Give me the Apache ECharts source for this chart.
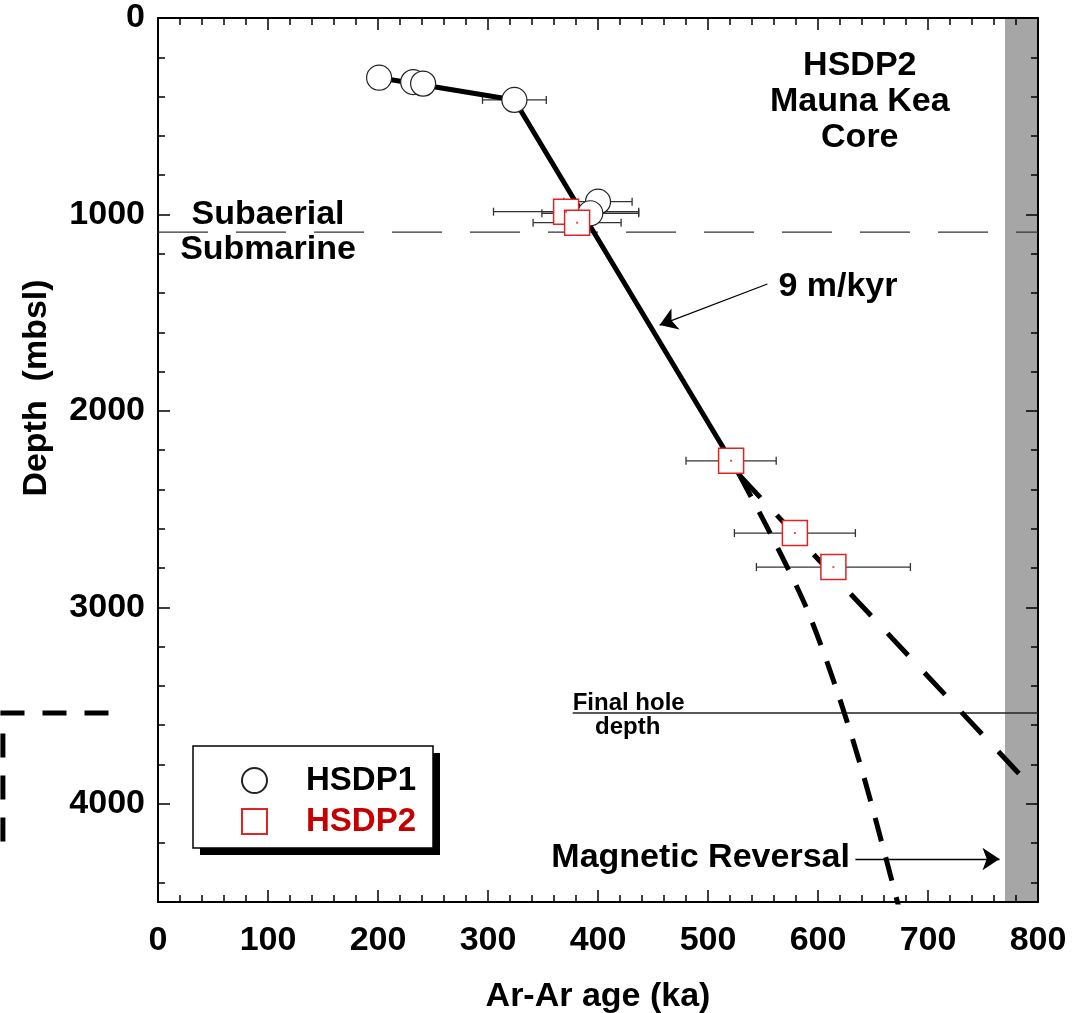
<!DOCTYPE html>
<html>
<head>
<meta charset="utf-8">
<script src="https://cdn.jsdelivr.net/npm/echarts@6/dist/echarts.min.js"></script>
<style>
  html, body { margin: 0; padding: 0; background: #fff; }
  #chart { width: 1072px; height: 1013px; }
</style>
</head>
<body>
<div id="chart"></div>
<script>
// HSDP1 Ar-Ar ages (ka), depths (mbsl) and age errors (ka)
var hsdp1Age = [201, 232, 241, 324, 400, 393]
var hsdp1Depth = [304, 326, 334, 417, 935, 994]
var hsdp1Err = [0, 0, 0, 29, 31, 44]

// HSDP2
var hsdp2Age = [371, 381, 521, 579, 614]
var hsdp2Depth = [986, 1042, 2254, 2622, 2795]
var hsdp2Err = [66, 40, 41, 55, 70]

// 9 m/kyr growth curve and the two extrapolations below it
var fitAge = [201, 324, 521, 529]
var fitDepth = [304, 417, 2254, 2330]
var steepAge = [529, 560, 590, 617, 640, 660, 675]
var steepDepth = [2330, 2660, 3010, 3420, 3830, 4240, 4560]
var flatAge = [529, 784]
var flatDepth = [2330, 3854]

// stray dashed corner left of the plot (from the neighbouring panel)
var strayAge = [-45, -141, -141]
var strayDepth = [3538, 3538, 4276]

var shoreDepth = 1090      // subaerial / submarine boundary
var holeDepth = 3538       // final hole depth
var holeFromAge = 377
var reversalAge = [770, 800]

// annotation arrows [fromAge, fromDepth, toAge, toDepth]
var rateArrow = [554, 1354, 456, 1563]
var reversalArrow = [634, 4281, 765, 4281]

var FONT = '"Liberation Sans", Arial, Helvetica, sans-serif'

var notes = [
  { text: 'HSDP2\nMauna Kea\nCore', age: 638, depth: 428, align: 'center' },
  { text: 'Subaerial', age: 100, depth: 1003, align: 'center' },
  { text: 'Submarine', age: 100, depth: 1181, align: 'center' },
  { text: '9 m/kyr', age: 564, depth: 1369, align: 'left' },
  { text: 'Final hole', age: 377, depth: 3487, align: 'left', small: true },
  { text: 'depth', age: 427, depth: 3609, align: 'center', small: true },
  { text: 'Magnetic Reversal', age: 629, depth: 4276, align: 'right' }
]

function zip (a, b) {
  return a.map(function (v, i) { return [v, b[i]] })
}

function errBars (age, depth, err) {
  var out = []
  age.forEach(function (a, i) {
    if (err[i] > 0) out.push([a - err[i], a + err[i], depth[i]])
  })
  return out
}

var chart = echarts.init(document.getElementById('chart'))

var boxLine = { show: true, onZero: false, lineStyle: { color: '#000', width: 2 } }
var noLine = { show: false, onZero: false }
var majorTick = { show: true, inside: true, length: 12, lineStyle: { color: '#000', width: 1.5 } }
var minorTick = { show: true, inside: true, length: 7, lineStyle: { color: '#000', width: 1.5 } }
var labelFont = { fontFamily: FONT, fontSize: 34, fontWeight: 'bold', color: '#000' }

function xAx (pos, labels) {
  return {
    type: 'value', position: pos, min: 0, max: 800, interval: 100,
    axisLine: boxLine, axisTick: majorTick,
    minorTick: { show: true, splitNumber: 5, length: 7, lineStyle: { color: '#000', width: 1.5 } },
    splitLine: { show: false }, minorSplitLine: { show: false },
    axisLabel: labels ? Object.assign({ margin: 22 }, labelFont) : { show: false }
  }
}

function yAx (pos, step, labels) {
  return {
    type: 'value', position: pos, inverse: true, min: 0, max: 4500, interval: step,
    axisLine: step === 1000 ? boxLine : noLine,
    axisTick: step === 1000 ? majorTick : minorTick,
    splitLine: { show: false },
    axisLabel: labels ? Object.assign({
      margin: 13,
      formatter: function (v) { return v % 1000 === 0 ? String(v) : '' }
    }, labelFont) : { show: false }
  }
}

var xBottom = xAx('bottom', true)
xBottom.name = 'Ar-Ar age (ka)'
xBottom.nameLocation = 'middle'
xBottom.nameGap = 78
xBottom.nameTextStyle = labelFont

var errorSeries = function (name, data) {
  return {
    name: name, type: 'custom', z: 3, silent: true,
    data: data,
    encode: { x: [0, 1], y: 2 },
    renderItem: function (params, api) {
      var lo = api.coord([api.value(0), api.value(2)])
      var hi = api.coord([api.value(1), api.value(2)])
      var st = { stroke: '#333', lineWidth: 1.3 }
      return {
        type: 'group',
        children: [
          { type: 'line', shape: { x1: lo[0], y1: lo[1], x2: hi[0], y2: hi[1] }, style: st },
          { type: 'line', shape: { x1: lo[0], y1: lo[1] - 4, x2: lo[0], y2: lo[1] + 4 }, style: st },
          { type: 'line', shape: { x1: hi[0], y1: hi[1] - 4, x2: hi[0], y2: hi[1] + 4 }, style: st }
        ]
      }
    }
  }
}

var option = {
  animation: false,
  backgroundColor: '#fff',
  grid: { left: 158, top: 18, width: 880, height: 884, containLabel: false, outerBoundsMode: 'none' },
  xAxis: [xBottom, xAx('top', false)],
  yAxis: [yAx('left', 1000, true), yAx('left', 200, false), yAx('right', 1000, false), yAx('right', 200, false)],
  legend: {
    orient: 'vertical', left: 193, top: 748,
    itemWidth: 25, itemHeight: 25, itemGap: 8,
    padding: [16, 18, 14, 48],
    selectedMode: false,
    textStyle: Object.assign({ padding: [0, 0, 0, 34] }, labelFont, { fontSize: 33 }),
    data: [
      { name: 'HSDP1', textStyle: { color: '#000' } },
      { name: 'HSDP2', textStyle: { color: '#c40000' } }
    ]
  },
  series: [
    {
      name: 'reversal', type: 'custom', z: -1, silent: true,
      data: [reversalAge],
      renderItem: function (params, api) {
        var a = api.coord([api.value(0), 0])
        var b = api.coord([api.value(1), 4500])
        return { type: 'rect', shape: { x: a[0], y: a[1], width: b[0] - a[0], height: b[1] - a[1] }, style: { fill: '#a6a6a6' } }
      }
    },
    {
      name: 'shore', type: 'line', symbol: 'none', silent: true,
      data: [[0, shoreDepth], [800, shoreDepth]],
      lineStyle: { color: '#333', width: 1.3, type: [50, 28] }
    },
    {
      name: 'hole', type: 'line', symbol: 'none', silent: true,
      data: [[holeFromAge, holeDepth], [800, holeDepth]],
      lineStyle: { color: '#222', width: 1.3 }
    },
    {
      name: 'steep', type: 'line', symbol: 'none', silent: true, smooth: 0.3,
      data: zip(steepAge, steepDepth),
      lineStyle: { color: '#000', width: 5, type: [24, 17] }
    },
    {
      name: 'flat', type: 'line', symbol: 'none', silent: true,
      data: zip(flatAge, flatDepth),
      lineStyle: { color: '#000', width: 5, type: [30, 24] }
    },
    {
      name: 'fit', type: 'line', symbol: 'none', silent: true,
      data: zip(fitAge, fitDepth),
      lineStyle: { color: '#000', width: 5 }
    },
    {
      name: 'arrows', type: 'lines', coordinateSystem: 'cartesian2d', silent: true,
      symbol: ['none', 'arrow'], symbolSize: 17,
      lineStyle: { color: '#000', width: 1.3, opacity: 1 },
      data: [
        { coords: [[rateArrow[0], rateArrow[1]], [rateArrow[2], rateArrow[3]]] },
        { coords: [[reversalArrow[0], reversalArrow[1]], [reversalArrow[2], reversalArrow[3]]] }
      ]
    },
    errorSeries('err1', errBars(hsdp1Age, hsdp1Depth, hsdp1Err)),
    errorSeries('err2', errBars(hsdp2Age, hsdp2Depth, hsdp2Err)),
    {
      name: 'HSDP1', type: 'scatter', z: 4, symbol: 'circle', symbolSize: 25,
      itemStyle: { color: '#fff', borderColor: '#222', borderWidth: 1.2, opacity: 1 },
      data: zip(hsdp1Age, hsdp1Depth)
    },
    {
      name: 'HSDP2', type: 'scatter', z: 5, symbol: 'rect', symbolSize: 25,
      itemStyle: { color: '#fff', borderColor: '#e02424', borderWidth: 1.5, opacity: 1 },
      data: zip(hsdp2Age, hsdp2Depth)
    },
    {
      name: 'dot', type: 'scatter', z: 6, symbol: 'rect', symbolSize: 2, silent: true,
      itemStyle: { color: '#e02424' },
      data: zip(hsdp2Age, hsdp2Depth)
    }
  ]
}

chart.setOption(option)

// annotations placed through the chart's own data -> pixel conversion
function px (age, depth) {
  return chart.convertToPixel({ xAxisIndex: 0, yAxisIndex: 0 }, [age, depth])
}

var graphics = notes.map(function (n) {
  var p = px(n.age, n.depth)
  return {
    type: 'text', x: p[0], y: p[1], z: 10, silent: true,
    style: {
      text: n.text, fontFamily: FONT, fontWeight: 'bold', fill: '#000',
      fontSize: n.small ? 24 : 34, lineHeight: n.small ? 24 : 36,
      align: n.align, verticalAlign: 'middle'
    }
  }
})

graphics.push({
  type: 'polyline', z: 10, silent: true,
  shape: { points: strayAge.map(function (a, i) { return px(a, strayDepth[i]) }) },
  style: { stroke: '#000', lineWidth: 5, fill: null, lineDash: [24, 18] }
})

// legend frame with its hard drop shadow
graphics.push({ type: 'rect', z: 3, silent: true, shape: { x: 200, y: 753, width: 240, height: 102 }, style: { fill: '#000' } })
graphics.push({ type: 'rect', z: 3, silent: true, shape: { x: 193, y: 746, width: 240, height: 102 }, style: { fill: '#fff', stroke: '#000', lineWidth: 1.5 } })

graphics.push({
  type: 'text', x: 37, y: 388, rotation: Math.PI / 2, z: 10, silent: true,
  style: { text: 'Depth  (mbsl)', fontFamily: FONT, fontSize: 34, fontWeight: 'bold', fill: '#000', align: 'center', verticalAlign: 'middle' }
})

chart.setOption({ graphic: graphics })
</script>
</body>
</html>
